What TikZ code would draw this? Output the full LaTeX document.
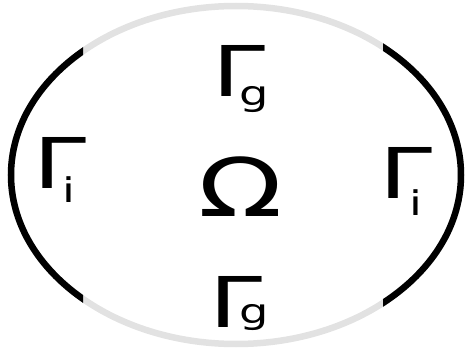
\documentclass[tikz,border=0pt]{standalone}
\usepackage{fontspec}
\setmainfont{DejaVu Sans}
\definecolor{rimgray}{RGB}{226,226,226}
\newcommand{\widetext}[1]{\scalebox{1.36}[1]{#1}}

\begin{document}
\begin{tikzpicture}[
    x=1pt, y=-1pt,
    rim/.style={line width=6.5pt},
    gam/.style={anchor=base, inner sep=0pt, font=\fontsize{70}{70}\selectfont},
    sub/.style={anchor=base, inner sep=0pt, font=\fontsize{34}{34}\selectfont},
    dom/.style={anchor=base, inner sep=0pt, font=\fontsize{81}{81}\selectfont}
]
\useasboundingbox (0,0) rectangle (472,353);

% Boundary: grey part first, black arcs on top
\draw[rim, rimgray] (236,175) ellipse [x radius=225, y radius=169];
\begin{scope}
    \clip (0,0) rectangle (83,353);
    \draw[rim, black] (236,175) ellipse [x radius=225, y radius=169];
\end{scope}
\begin{scope}
    \clip (383,0) rectangle (472,353);
    \draw[rim, black] (236,175) ellipse [x radius=225, y radius=169];
\end{scope}

% Labels
\node[dom] (Omega) at (240.5,216) {\widetext{Ω}};

\node[gam] (Gtop) at (239.5,97) {\widetext{Γ}};
\node[sub] (gtop) at (254.5,105.5) {\widetext{g}};

\node[gam] (Gbot) at (236.5,327) {\widetext{Γ}};
\node[sub] (gbot) at (254,323) {\widetext{g}};

\node[gam] (Gleft) at (60,189) {\widetext{Γ}};
\node[sub] (ileft) at (69,202) {\widetext{i}};

\node[gam] (Gright) at (406.5,198) {\widetext{Γ}};
\node[sub] (iright) at (415.5,215) {\widetext{i}};

\end{tikzpicture}
\end{document}
